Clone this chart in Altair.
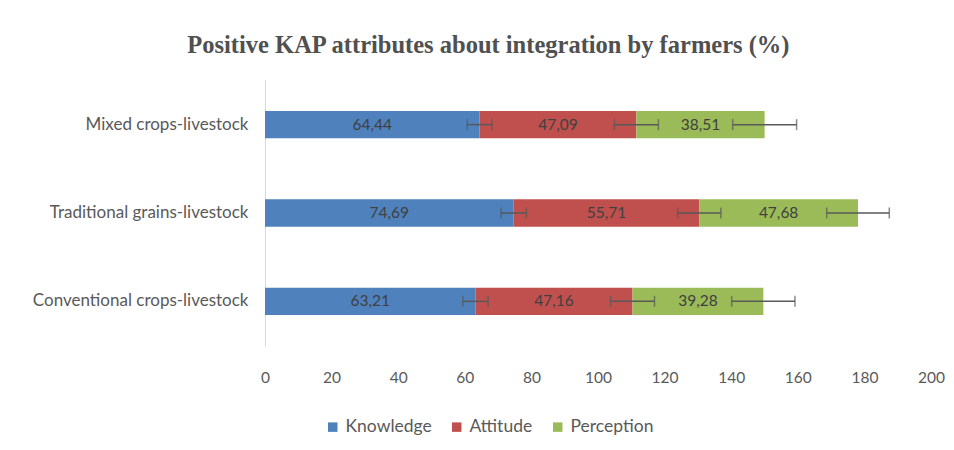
import altair as alt
import pandas as pd

categories = ["Mixed crops-livestock", "Traditional grains-livestock", "Conventional crops-livestock"]
series = ["Knowledge", "Attitude", "Perception"]
knowledge = [64.44, 74.69, 63.21]
attitude = [47.09, 55.71, 47.16]
perception = [38.51, 47.68, 39.28]
err_knowledge = [3.7, 3.8, 3.8]
err_attitude = [6.6, 6.5, 6.6]
err_perception = [9.6, 9.4, 9.5]
colors = ["#4F81BD", "#C0504D", "#9BBB59"]
x_ticks = [0, 20, 40, 60, 80, 100, 120, 140, 160, 180, 200]

rows = []
for i, cat in enumerate(categories):
    start = 0.0
    for s, vals, errs in zip(series, [knowledge, attitude, perception],
                             [err_knowledge, err_attitude, err_perception]):
        v = vals[i]
        end = start + v
        rows.append({
            "category": cat, "series": s, "value": v,
            "start": start, "end": end, "mid": (start + end) / 2,
            "lo": end - errs[i], "hi": end + errs[i],
            "label": f"{v:.2f}".replace(".", ","),
        })
        start = end
df = pd.DataFrame(rows)

font = "Lato"
ycat = alt.Y("category:N", sort=categories, title=None,
             scale=alt.Scale(paddingInner=0.69, paddingOuter=0.35),
             axis=alt.Axis(domainColor="#d9d9d9", ticks=False, labelFont=font,
                           labelFontSize=17, labelColor="#595959", labelPadding=17,
                           labelLimit=400))

bars = alt.Chart(df).mark_bar().encode(
    x=alt.X("start:Q", scale=alt.Scale(domain=[0, 200]),
            axis=alt.Axis(values=x_ticks, grid=False, ticks=False, domain=False,
                          labelPadding=24, labelFontSize=15.5, labelColor="#595959",
                          labelFont=font, labelFlush=False),
            title=None),
    x2="end:Q",
    y=ycat,
    color=alt.Color("series:N", sort=series,
                    scale=alt.Scale(domain=series, range=colors),
                    legend=alt.Legend(title=None, orient="none", direction="horizontal",
                                      legendX=59, legendY=338,
                                      symbolType="square", symbolSize=90,
                                      symbolStrokeWidth=0,
                                      labelFont=font, labelFontSize=17.5,
                                      labelColor="#595959", columnPadding=16)),
)

labels = alt.Chart(df).mark_text(font=font, fontSize=15.5, color="#404040").encode(
    x="mid:Q", y=ycat, text="label:N"
)

rules = alt.Chart(df).mark_rule(color="#595959", strokeWidth=1.5).encode(
    x="lo:Q", x2="hi:Q", y=ycat
)
caps_lo = alt.Chart(df).mark_tick(color="#595959", thickness=1.5, size=11).encode(
    x="lo:Q", y=ycat
)
caps_hi = alt.Chart(df).mark_tick(color="#595959", thickness=1.5, size=11).encode(
    x="hi:Q", y=ycat
)

chart = alt.layer(bars, labels, rules, caps_lo, caps_hi).properties(
    width=666, height=266,
    background="white",
    padding={"left": 24, "top": 24, "right": 0, "bottom": 10},
    title=alt.TitleParams("Positive KAP attributes about integration by farmers (%)",
                          font="Liberation Serif", fontSize=24.5, fontWeight="bold",
                          color="#505050", anchor="middle", frame="bounds", offset=22),
).configure_view(stroke=None)

chart.save("out.html", embed_options={"renderer": "svg", "actions": False})
